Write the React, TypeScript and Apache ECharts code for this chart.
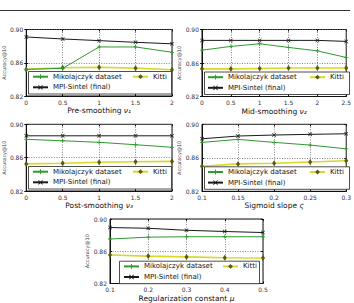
import React, { useEffect, useRef } from 'react';
import * as echarts from 'echarts';

const FONT = 'DejaVu Sans';
const NAME_MIK = 'Mikolajczyk dataset';
const NAME_KITTI = 'Kitti';
const NAME_MPI = 'MPI-Sintel (final)';
const yMin = 0.82;
const yMax = 0.9;
const yStep = 0.04;

// Pre-smoothing nu1
const preX = [0, 0.5, 1, 1.5, 2];
const preMik = [0.852, 0.8533, 0.879, 0.879, 0.8726];
const preKitti = [0.852, 0.854, 0.8545, 0.8535, 0.8515];
const preMpi = [0.891, 0.8886, 0.8866, 0.8846, 0.8828];

// Mid-smoothing nu2
const midX = [0, 0.5, 1, 1.5, 2, 2.5];
const midMik = [0.8753, 0.8798, 0.883, 0.8786, 0.8745, 0.8666];
const midKitti = [0.853, 0.853, 0.8535, 0.854, 0.854, 0.854];
const midMpi = [0.887, 0.887, 0.887, 0.887, 0.887, 0.8858];

// Post-smoothing nu3
const postX = [0, 0.5, 1, 1.5, 2];
const postMik = [0.882, 0.8802, 0.8784, 0.8755, 0.8724];
const postKitti = [0.8525, 0.8533, 0.8545, 0.855, 0.8555];
const postMpi = [0.8862, 0.8862, 0.8862, 0.8862, 0.8862];

// Sigmoid slope
const sigX = [0.1, 0.15, 0.2, 0.25, 0.3];
const sigMik = [0.8784, 0.882, 0.8784, 0.8752, 0.8707];
const sigKitti = [0.85, 0.8527, 0.8535, 0.855, 0.8564];
const sigMpi = [0.8827, 0.886, 0.8872, 0.888, 0.8887];

// Regularization constant mu
const regX = [0.1, 0.2, 0.3, 0.4, 0.5];
const regMik = [0.8752, 0.8775, 0.878, 0.878, 0.878];
const regKitti = [0.8553, 0.854, 0.853, 0.852, 0.8517];
const regMpi = [0.8894, 0.8885, 0.886, 0.8845, 0.8832];

const panels = [
  { name: 'Pre-smoothing {i|ν₁}', x: preX, mik: preMik, kitti: preKitti, mpi: preMpi, xMin: 0, xMax: 2, xStep: 0.5,
    left: 26, top: 29.5, width: 146, height: 66.5, boxX: 28, boxW: 144, mikX: 32, kittiX: 132 },
  { name: 'Mid-smoothing {i|ν₂}', x: midX, mik: midMik, kitti: midKitti, mpi: midMpi, xMin: 0, xMax: 2.5, xStep: 0.5,
    left: 202, top: 29.5, width: 150, height: 67, boxX: 204, boxW: 146, mikX: 207, kittiX: 309 },
  { name: 'Post-smoothing {i|ν₃}', x: postX, mik: postMik, kitti: postKitti, mpi: postMpi, xMin: 0, xMax: 2, xStep: 0.5,
    left: 26, top: 124.3, width: 146, height: 66.7, boxX: 28, boxW: 144, mikX: 32, kittiX: 132 },
  { name: 'Sigmoid slope {i|ς}', x: sigX, mik: sigMik, kitti: sigKitti, mpi: sigMpi, xMin: 0.1, xMax: 0.3, xStep: 0.05,
    left: 202, top: 124.3, width: 150, height: 67, boxX: 204, boxW: 146, mikX: 207, kittiX: 309 },
  { name: 'Regularization constant {i|μ}', x: regX, mik: regMik, kitti: regKitti, mpi: regMpi, xMin: 0.1, xMax: 0.5, xStep: 0.1,
    left: 110, top: 219, width: 153, height: 66.7, boxX: 119, boxW: 141, mikX: 123, kittiX: 222 },
];

const PLUS = 'path://M4,0H6V4H10V6H6V10H4V6H0V4H4Z';
const CROSS = 'path://M0,1.2L1.2,0L5,3.8L8.8,0L10,1.2L6.2,5L10,8.8L8.8,10L5,6.2L1.2,10L0,8.8L3.8,5Z';

const gridLine = { show: true, lineStyle: { color: '#666', width: 0.8, type: [1, 1.5] } };
const fmt = (v: number) => String(parseFloat(v.toFixed(2)));

function buildOption() {
  const grids: any[] = [];
  const xAxes: any[] = [];
  const yAxes: any[] = [];
  const series: any[] = [];
  const legends: any[] = [];
  const graphics: any[] = [
    { type: 'line', shape: { x1: 0, y1: 10.5, x2: 350, y2: 10.5 }, style: { stroke: '#333', lineWidth: 1 }, z: 50 },
  ];

  panels.forEach((p, i) => {
    grids.push({ left: p.left, top: p.top, width: p.width, height: p.height, show: true, borderColor: '#111', borderWidth: 1, backgroundColor: 'transparent' });
    const gb = p.top + p.height;
    xAxes.push({
      type: 'value', gridIndex: i, min: p.xMin, max: p.xMax, interval: p.xStep, position: 'bottom',
      name: p.name, nameLocation: 'middle', nameGap: 10.5,
      nameTextStyle: { fontFamily: FONT, fontSize: 7.5, color: '#111', rich: { i: { fontFamily: FONT, fontSize: 7.5, fontStyle: 'italic', color: '#111' } } },
      axisLine: { show: true, lineStyle: { color: '#111', width: 1 } },
      axisTick: { show: true, inside: true, length: 2, lineStyle: { color: '#111' } },
      axisLabel: { fontFamily: FONT, fontSize: 6, color: '#333', margin: 3, formatter: fmt },
      splitLine: gridLine,
    });
    xAxes.push({
      type: 'value', gridIndex: i, min: p.xMin, max: p.xMax, interval: p.xStep, position: 'top',
      axisLine: { show: false }, axisLabel: { show: false }, splitLine: { show: false },
      axisTick: { show: true, inside: true, length: 2, lineStyle: { color: '#111' } },
    });
    yAxes.push({
      type: 'value', gridIndex: i, min: yMin, max: yMax, interval: yStep, position: 'left',
      name: 'Accuracy@10', nameLocation: 'middle', nameGap: 17.5, nameRotate: 90,
      nameTextStyle: { fontFamily: FONT, fontSize: 5, color: '#333' },
      axisLine: { show: true, lineStyle: { color: '#111', width: 1 } },
      axisTick: { show: true, inside: true, length: 2, lineStyle: { color: '#111' } },
      axisLabel: { fontFamily: FONT, fontSize: 6, color: '#333', margin: 3, formatter: (v: number) => v.toFixed(2) },
      splitLine: gridLine,
    });
    yAxes.push({
      type: 'value', gridIndex: i, min: yMin, max: yMax, interval: yStep, position: 'right',
      axisLine: { show: false }, axisLabel: { show: false }, splitLine: { show: false },
      axisTick: { show: true, inside: true, length: 2, lineStyle: { color: '#111' } },
    });
    const pts = (ys: number[]) => p.x.map((xv, j) => [xv, ys[j]]);
    series.push({
      type: 'line', name: NAME_MIK, xAxisIndex: 2 * i, yAxisIndex: 2 * i, data: pts(p.mik),
      symbol: PLUS, symbolSize: 4, itemStyle: { color: '#2e9a2e' }, lineStyle: { color: '#2e9a2e', width: 1 }, z: 3,
    });
    series.push({
      type: 'line', name: NAME_KITTI, xAxisIndex: 2 * i, yAxisIndex: 2 * i, data: pts(p.kitti),
      symbol: 'diamond', symbolSize: [4, 6], itemStyle: { color: '#5a5a12' }, lineStyle: { color: '#d8d82a', width: 1.6 }, z: 2,
    });
    series.push({
      type: 'line', name: NAME_MPI, xAxisIndex: 2 * i, yAxisIndex: 2 * i, data: pts(p.mpi),
      symbol: CROSS, symbolSize: 4, itemStyle: { color: '#1a1a1a' }, lineStyle: { color: '#1a1a1a', width: 1 }, z: 4,
    });
    const legCommon = {
      padding: 0, itemWidth: 15, itemHeight: 6, selectedMode: false, z: 60,
      textStyle: { fontFamily: FONT, fontSize: 7, color: '#111', lineHeight: 7 },
    };
    legends.push({ ...legCommon, data: [NAME_MIK, NAME_MPI], orient: 'vertical', itemGap: 3.6, left: p.mikX, top: gb - 22.8 });
    legends.push({ ...legCommon, data: [NAME_KITTI], orient: 'horizontal', left: p.kittiX, top: gb - 22.8 });
    graphics.push({
      type: 'rect', z: 50,
      shape: { x: p.boxX + 0.5, y: gb - 24.5, width: p.boxW - 1, height: 22.5 },
      style: { fill: '#fff', stroke: '#222', lineWidth: 0.8 },
    });
  });

  return {
    animation: false,
    backgroundColor: '#fff',
    textStyle: { fontFamily: FONT },
    grid: grids,
    xAxis: xAxes,
    yAxis: yAxes,
    legend: legends,
    series,
    graphic: { elements: graphics },
  };
}

export default function App() {
  const ref = useRef<HTMLDivElement>(null);
  useEffect(() => {
    document.body.style.margin = '0';
    if (!ref.current) return;
    const chart = echarts.init(ref.current, undefined, { renderer: 'svg' });
    chart.setOption(buildOption() as any);
    return () => chart.dispose();
  }, []);
  return <div ref={ref} style={{ width: 354, height: 303 }} />;
}
